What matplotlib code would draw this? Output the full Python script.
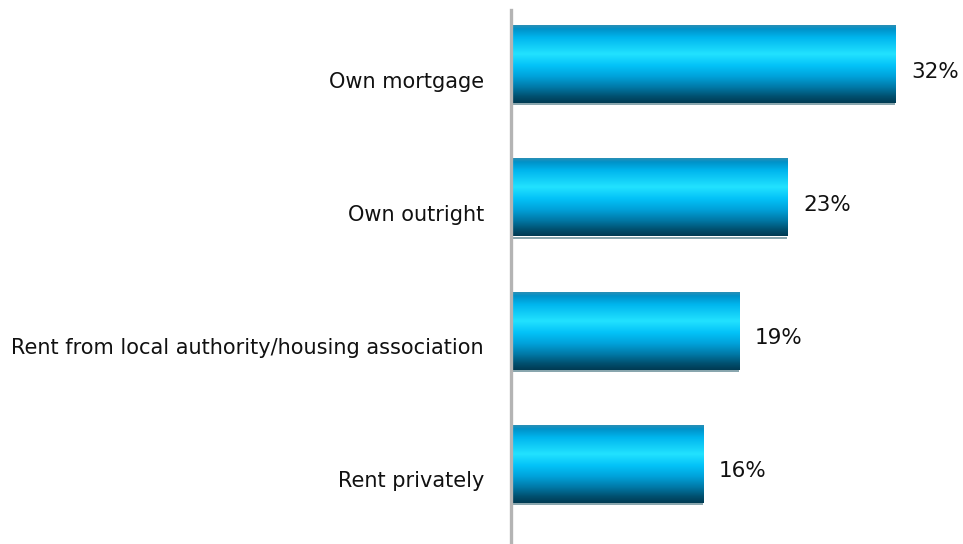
import numpy as np
import matplotlib.pyplot as plt
from matplotlib.colors import LinearSegmentedColormap

categories = ["Own mortgage", "Own outright",
              "Rent from local authority/housing association", "Rent privately"]
values = [32, 23, 19, 16]

W, H = 963, 544
fig = plt.figure(figsize=(W / 100, H / 100), dpi=100)

# axes placed in pixel units; 12 px per percentage point
ax_left, ax_top, ax_bottom, ax_w = 511, 10, 544, 420
ax = fig.add_axes([ax_left / W, 1 - ax_bottom / H, ax_w / W, (ax_bottom - ax_top) / H])
pitch, first_c = 133.3, 64.5
ax.set_xlim(0, ax_w / 12)
ax.set_ylim((ax_bottom - first_c) / pitch, (ax_top - first_c) / pitch)

# vertical "tube" shading for the bars
stops = [(0.0, "#2a8fb6"), (0.05, "#0092c9"), (0.16, "#00b6ee"), (0.37, "#22e2ff"),
         (0.52, "#03c2f8"), (0.66, "#00a2da"), (0.80, "#0078a6"), (0.92, "#004f6e"),
         (1.0, "#003a52")]
tube = LinearSegmentedColormap.from_list("tube", stops)
grad = np.linspace(0, 1, 256).reshape(-1, 1)

bar_h = 0.58
for i, (cat, v) in enumerate(zip(categories, values)):
    top, bot = i - bar_h / 2, i + bar_h / 2
    ax.imshow(grad, cmap=tube, aspect="auto", extent=(0, v, bot, top),
              interpolation="bilinear", zorder=2)
    # thin shadow under each bar
    ax.plot([0, v], [bot + 0.008, bot + 0.008], color="#86a4ac", lw=1.4,
            solid_capstyle="butt", zorder=1)
    ax.annotate(f"{v}%", (v, i), xytext=(16, -7), textcoords="offset pixels",
                va="center", ha="left", fontsize=15.5, color="#111111")
    ax.annotate(cat, (0, i), xytext=(-27, -17), textcoords="offset pixels",
                va="center", ha="right", fontsize=15, color="#111111",
                annotation_clip=False)

ax.set_xticks([])
ax.set_yticks([])
for s in ["top", "right", "bottom"]:
    ax.spines[s].set_visible(False)
ax.spines["left"].set_color("#b4b4b4")
ax.spines["left"].set_linewidth(2.4)
ax.spines["left"].set_zorder(3)
ax.set_facecolor("none")

fig.savefig("out.png", dpi=100)
